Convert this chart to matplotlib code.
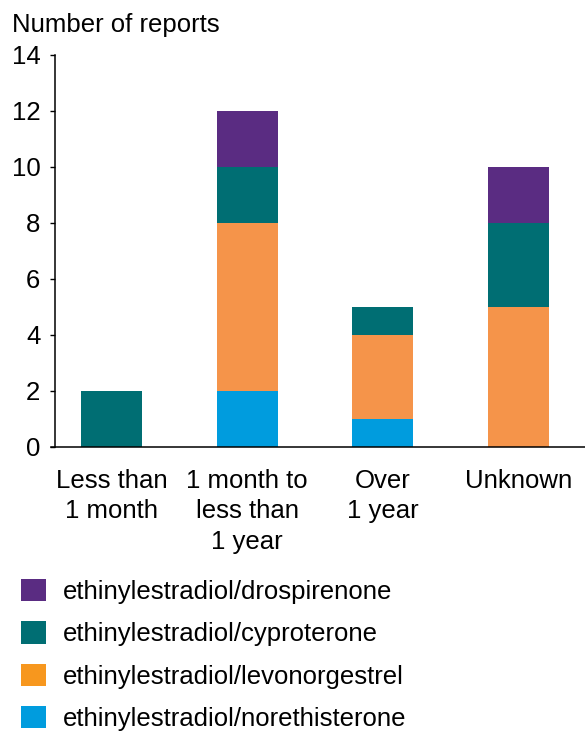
import matplotlib
matplotlib.use('Agg')
import matplotlib.pyplot as plt
from matplotlib.patches import Patch
import numpy as np

plt.rcParams['font.family'] = ['Liberation Sans', 'DejaVu Sans']

categories = ['Less than\n1 month', '1 month to\nless than\n1 year',
              'Over\n1 year', 'Unknown']
series_names = ['ethinylestradiol/norethisterone',
                'ethinylestradiol/levonorgestrel',
                'ethinylestradiol/cyproterone',
                'ethinylestradiol/drospirenone']
norethisterone = [0, 2, 1, 0]
levonorgestrel = [0, 6, 3, 5]
cyproterone = [2, 2, 1, 3]
drospirenone = [0, 2, 0, 2]
series = [norethisterone, levonorgestrel, cyproterone, drospirenone]
y_ticks = [0, 2, 4, 6, 8, 10, 12, 14]

bar_colors = ['#009CDE', '#F5944A', '#006E73', '#5A2C82']
legend_colors = ['#009CDE', '#F7971E', '#006E73', '#5A2C82']

W, H = 585, 733
fs = 18.5
fig = plt.figure(figsize=(W / 100, H / 100), dpi=100)
ax = fig.add_axes([51 / W, 1 - 447 / H, (585 - 51) / W, (447 - 55) / H])

# spine shift first: it resets the ticks
for s in ['top', 'right']:
  ax.spines[s].set_visible(False)
ax.spines['left'].set_position(('outward', -3))
ax.spines['left'].set_linewidth(1.1)
ax.spines['bottom'].set_linewidth(1.1)

x = np.arange(len(categories))
bottom = np.zeros(len(categories))
for vals, col in zip(series, bar_colors):
  vals = np.array(vals, dtype=float)
  ax.bar(x, vals, width=0.45, bottom=bottom, color=col, linewidth=0)
  bottom += vals

ax.set_xlim(-0.448, 3.493)
ax.set_ylim(0, 14)
ax.set_yticks(y_ticks)
ax.set_yticklabels([str(v) for v in y_ticks])
ax.set_xticks(x)
ax.set_xticklabels(categories, linespacing=1.33)
ax.tick_params(axis='x', length=0, pad=16, labelsize=fs)
ax.tick_params(axis='y', length=3.6, width=1.0, pad=7, direction='out',
               labelsize=fs)

fig.text(12 / W, 1 - 25 / H, 'Number of reports', fontsize=fs,
         ha='left', va='center')

handles = [Patch(facecolor=c, edgecolor='none') for c in legend_colors]
leg = fig.legend(handles[::-1], series_names[::-1],
                 loc='upper left', bbox_to_anchor=(21 / W, 1 - 579 / H),
                 frameon=False, fontsize=fs, handlelength=0.97,
                 handleheight=0.97, handletextpad=0.65, labelspacing=0.67,
                 borderpad=0, borderaxespad=0)

fig.savefig('out.png', dpi=100)
